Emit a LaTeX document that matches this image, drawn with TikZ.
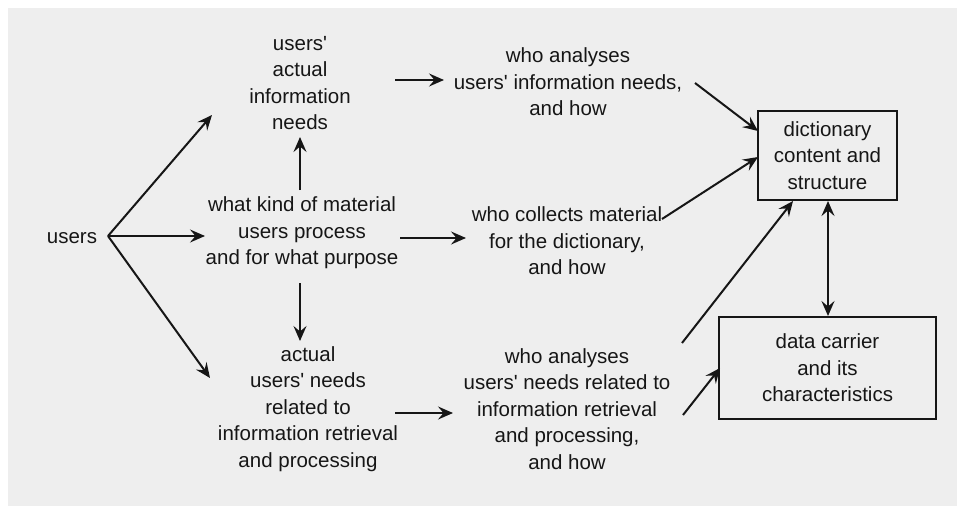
\documentclass[tikz,border=0pt]{standalone}
\usepackage{fontspec}
\setmainfont{Liberation Sans}[Ligatures=TeXOff]
\usetikzlibrary{arrows.meta}
\definecolor{bg}{HTML}{EEEEEE}
\definecolor{ink}{HTML}{161616}
\begin{document}
\begin{tikzpicture}[x=1pt,y=-1pt,
  txt/.style={align=center,inner sep=0pt,text=ink,font=\fontsize{20.5}{26.5}\selectfont},
  boxed/.style={txt,draw=ink,line width=2pt},
  tip/.tip={Stealth[length=15pt,width=13pt,inset=5.5pt]},
  arr/.style={draw=ink,line width=2pt,-tip},
  darr/.style={draw=ink,line width=2pt,tip-tip}]
\useasboundingbox (0,0) rectangle (957,506);
\fill[bg] (8,8) rectangle (957,506);

\node[txt] (users) at (72,238) {users};
\node[txt] (needs) at (300,83) {users'\\actual\\information\\needs};
\node[txt] (kind) at (302,233) {what kind of material\\users process\\and for what purpose};
\node[txt] (actual) at (308,409) {actual\\users' needs\\related to\\information retrieval\\and processing};
\node[txt] (whoA) at (568,82) {who analyses\\users' information needs,\\and how};
\node[txt] (whoC) at (567,241) {who collects material\\for the dictionary,\\and how};
\node[txt] (whoB) at (567,409) {who analyses\\users' needs related to\\information retrieval\\and processing,\\and how};
\node[boxed,minimum width=139pt,minimum height=89pt] (dict) at (827.5,155.5) {dictionary\\content and\\structure};
\node[boxed,minimum width=217pt,minimum height=102pt] (data) at (827.5,368) {data carrier\\and its\\characteristics};

% fan from users
\coordinate (fan) at (108,236);
\coordinate (fanU) at (212,115);
\coordinate (fanM) at (205,236);
\coordinate (fanD) at (210,378);
\draw[arr] (fan) -- (fanU);
\draw[arr] (fan) -- (fanM);
\draw[arr] (fan) -- (fanD);

% vertical arrows from kind
\coordinate (kU0) at (300,190);
\coordinate (kU1) at (300,137);
\coordinate (kD0) at (300,283);
\coordinate (kD1) at (300,341);
\draw[arr] (kU0) -- (kU1);
\draw[arr] (kD0) -- (kD1);

% horizontal arrows
\coordinate (h1a) at (395,80);  \coordinate (h1b) at (444,80);
\coordinate (h2a) at (400,238); \coordinate (h2b) at (466,238);
\coordinate (h3a) at (395,413); \coordinate (h3b) at (453,413);
\draw[arr] (h1a) -- (h1b);
\draw[arr] (h2a) -- (h2b);
\draw[arr] (h3a) -- (h3b);

% to the boxes
\coordinate (d1a) at (695,83);  \coordinate (d1b) at (758,131);
\coordinate (d2a) at (662,219); \coordinate (d2b) at (758,157);
\coordinate (d3a) at (682,343); \coordinate (d3b) at (793,201);
\coordinate (d4a) at (683,415); \coordinate (d4b) at (720,368);
\draw[arr] (d1a) -- (d1b);
\draw[arr] (d2a) -- (d2b);
\draw[arr] (d3a) -- (d3b);
\draw[arr] (d4a) -- (d4b);

% double arrow between boxes
\draw[darr] (dict.south -| 828,0) -- (data.north -| 828,0);
\end{tikzpicture}
\end{document}
